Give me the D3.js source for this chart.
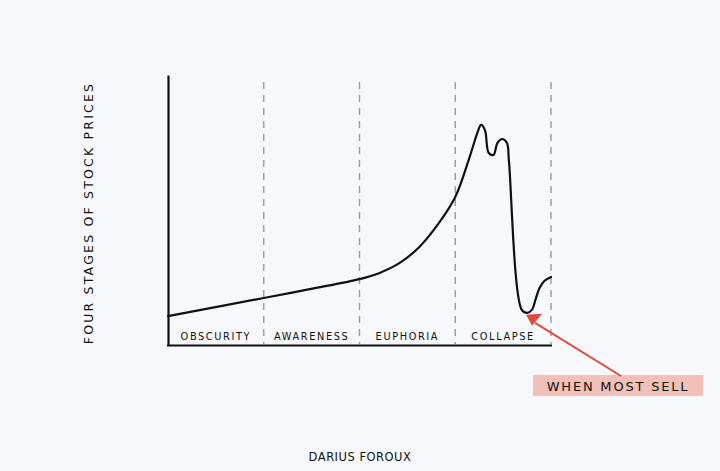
<!DOCTYPE html>
<html><head><meta charset="utf-8">
<script src="https://cdn.jsdelivr.net/npm/d3@7"></script>
<style>
html,body{margin:0;padding:0;background:#f7f8fc;}
svg{display:block;}
text{font-family:"DejaVu Sans",sans-serif;fill:#111;}
</style></head>
<body><svg id="c" width="720" height="471"></svg>
<script>
const stages = ["OBSCURITY","AWARENESS","EUPHORIA","COLLAPSE"];
const stageBounds = [1,2,3,4];
const priceX = [0,1.0,1.48,2.0,2.21,2.42,2.625,2.83,3.0,3.15,3.23,3.27,3.31,3.35,3.40,3.44,3.49,3.54,3.56,3.695,3.75,3.80,3.84,3.88,3.93,4.0];
const priceY = [10.7,17.4,20.7,24.4,26.7,30.4,36.3,45.2,54.8,69.6,78.5,81.5,79.6,71.1,70.4,74.8,76.3,74.8,68.5,13.0,11.9,13.0,17.0,21.1,23.7,25.2];
const yLabel = "FOUR STAGES OF STOCK PRICES";
const annotation = "WHEN MOST SELL";
const credit = "DARIUS FOROUX";
const lowIndex = 20;

const svg = d3.select("#c");
const x = d3.scaleLinear().domain([0,4]).range([168,551]);
const y = d3.scaleLinear().domain([0,100]).range([345,75]);

// dashed stage dividers
svg.append("g").selectAll("line").data(stageBounds).join("line")
  .attr("x1",d=>x(d)).attr("x2",d=>x(d))
  .attr("y1",82).attr("y2",344)
  .attr("stroke","#9a9a9a").attr("stroke-width",1.4)
  .attr("stroke-dasharray","7,6");

// axes
const yAxis = svg.append("g").attr("transform","translate(168,0)")
  .call(d3.axisLeft(y).tickValues([]).tickSizeOuter(0));
const xAxis = svg.append("g").attr("transform","translate(0,345)")
  .call(d3.axisBottom(x).tickValues([]).tickSizeOuter(0));
[yAxis,xAxis].forEach(a=>a.select(".domain").attr("stroke","#111").attr("stroke-width",2.2));
xAxis.select(".domain").attr("d",`M167,0.5H552`);

// stage labels
svg.append("g").selectAll("text").data(stages).join("text")
  .attr("x",(d,i)=>x(i+0.5)).attr("y",340)
  .attr("text-anchor","middle").attr("font-size",9.8)
  .attr("letter-spacing",1.6).text(d=>d);

// price curve
const pts = priceX.map((v,i)=>[v,priceY[i]]);
svg.append("path").datum(pts)
  .attr("d",d3.line().x(d=>x(d[0])).y(d=>y(d[1])).curve(d3.curveCatmullRom.alpha(0.5)))
  .attr("fill","none").attr("stroke","#111").attr("stroke-width",2.2)
  .attr("stroke-linejoin","round").attr("stroke-linecap","round");

// y label
svg.append("text").attr("transform","translate(93,213) rotate(-90)")
  .attr("text-anchor","middle").attr("font-size",12.5).attr("letter-spacing",2.2)
  .text(yLabel);

// annotation
const lowX = x(priceX[lowIndex]), lowY = y(priceY[lowIndex]);
svg.append("rect").attr("x",533).attr("y",375).attr("width",170).attr("height",21)
  .attr("fill","#f0b9b1").attr("opacity",0.9);
svg.append("line").attr("x1",lowX+8).attr("y1",lowY+10).attr("x2",621).attr("y2",376)
  .attr("stroke","#e2493a").attr("stroke-width",2);
svg.append("path")
  .attr("d",`M${lowX-1},${lowY+2}L${lowX+15},${lowY+1}L${lowX+5},${lowY+13}Z`)
  .attr("fill","#e2493a");
svg.append("text").attr("x",618).attr("y",391).attr("text-anchor","middle")
  .attr("font-size",13).attr("letter-spacing",1.8).text(annotation);

// credit
svg.append("text").attr("x",360).attr("y",461).attr("text-anchor","middle")
  .attr("font-size",11.5).attr("letter-spacing",0.5).text(credit);
</script></body></html>
